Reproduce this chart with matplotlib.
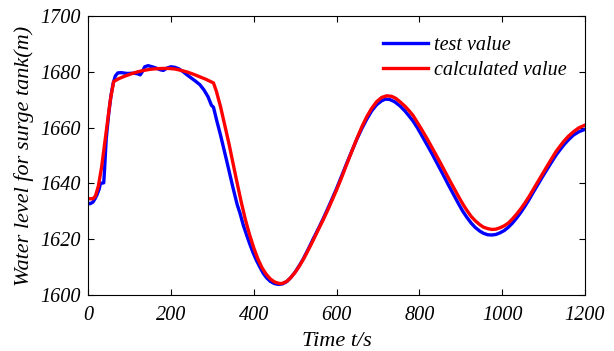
import numpy as np
import matplotlib
matplotlib.use('Agg')
import matplotlib.pyplot as plt

plt.rcParams['font.family'] = ['Liberation Serif', 'DejaVu Serif']
plt.rcParams['font.style'] = 'italic'

# 实测值 (test value)
t_test = [0, 5, 12, 17, 22, 27, 30, 38, 40, 44, 50, 56, 61, 66, 72, 80, 95, 110,
          120, 126, 131, 137, 145, 155, 165, 175, 182, 190, 200, 210, 220, 230,
          240, 250, 260, 270, 280, 290, 298, 303, 310, 320, 335, 350, 360, 367,
          375, 383, 390, 399, 407, 415, 423, 431, 440, 450, 460, 470, 480, 490,
          500, 510, 520, 532, 544, 556, 568, 580, 590, 600, 612, 625, 637, 649,
          661, 673, 685, 697, 709, 718, 728, 740, 753, 765, 775, 785, 795, 805,
          818, 830, 840, 850, 860, 870, 882, 895, 905, 914, 925, 935, 946, 955,
          965, 975, 985, 995, 1005, 1015, 1025, 1035, 1045, 1055, 1065, 1075,
          1087, 1097, 1107, 1120, 1130, 1140, 1150, 1160, 1172, 1185, 1200]
h_test = [1633, 1632.7, 1633.3, 1634.5, 1636, 1638, 1640, 1640.2, 1645, 1656,
          1665, 1672, 1676, 1678.5, 1679.6, 1679.7, 1679.4, 1679.5, 1679.3,
          1678.9, 1680, 1681.8, 1682.2, 1681.8, 1681.3, 1680.7, 1680.5, 1681.3,
          1681.8, 1681.6, 1681, 1680, 1678.8, 1677.7, 1676.6, 1675.4, 1673.5,
          1671, 1668, 1667.3, 1663, 1657.3, 1648, 1638.5, 1632.5, 1629.3, 1625,
          1621.5, 1618.5, 1615, 1612.3, 1610, 1607.8, 1606.2, 1604.9, 1604.1,
          1603.8, 1604, 1604.8, 1606.3, 1608.2, 1610.5, 1613, 1616.5, 1620.2,
          1623.7, 1627.4, 1631.3, 1634.7, 1638.1, 1642.5, 1647.3, 1651.6,
          1655.8, 1659.6, 1663, 1666, 1668.2, 1669.6, 1670.2, 1670.1, 1669.3,
          1667.8, 1666, 1664.2, 1662.3, 1660, 1657.4, 1654, 1650.8, 1648,
          1645.2, 1642.4, 1639.5, 1636.2, 1632.6, 1630, 1628, 1625.8, 1624.2,
          1622.9, 1622.1, 1621.6, 1621.5, 1621.7, 1622.3, 1623.1, 1624.3,
          1625.8, 1627.6, 1629.6, 1631.8, 1634.2, 1636.8, 1639.8, 1642.3,
          1644.7, 1647.8, 1650.1, 1652.1, 1654, 1655.6, 1657.3, 1658.5, 1659.4]

# 计算值 (calculated value)
t_calc = [0, 12, 18, 25, 33, 40, 47, 54, 62, 75, 90, 105, 120, 135, 150, 165,
          180, 195, 210, 225, 240, 255, 270, 285, 303, 310, 320, 330, 340, 350,
          360, 370, 380, 390, 400, 410, 420, 430, 440, 450, 460, 465, 470, 480,
          490, 500, 510, 520, 530, 544, 556, 568, 580, 590, 600, 612, 625, 637,
          649, 661, 673, 685, 697, 709, 721, 733, 743, 753, 765, 775, 785, 795,
          805, 818, 830, 840, 850, 860, 870, 882, 895, 905, 914, 925, 935, 946,
          955, 965, 975, 985, 995, 1005, 1015, 1025, 1035, 1045, 1055, 1065,
          1075, 1087, 1097, 1107, 1120, 1130, 1140, 1150, 1160, 1172, 1185, 1200]
h_calc = [1634.5, 1634.5, 1635.5, 1639, 1646, 1654, 1662, 1670, 1676.5,
          1677.6, 1678.5, 1679.3, 1680, 1680.5, 1680.9, 1681.1, 1681.2, 1681.2,
          1681, 1680.5, 1679.9, 1679.1, 1678.2, 1677.3, 1676, 1673, 1667.5,
          1661, 1654.5, 1647.3, 1640.2, 1633.3, 1627, 1621.7, 1617, 1613,
          1609.8, 1607.5, 1605.8, 1604.7, 1604.2, 1604.1, 1604.2, 1604.9,
          1606.3, 1608.1, 1610.3, 1612.8, 1615.6, 1619.7, 1623.4, 1627, 1630.8,
          1634.2, 1637.6, 1642, 1647, 1651.5, 1656, 1660.2, 1663.9, 1666.9,
          1669.3, 1670.8, 1671.4, 1671.2, 1670.5, 1669.3, 1667.7, 1666.1,
          1664.3, 1661.9, 1659.5, 1656.2, 1653, 1650.3, 1647.6, 1644.8, 1642,
          1638.7, 1635.2, 1632.6, 1630.5, 1628.2, 1626.6, 1625.2, 1624.3,
          1623.8, 1623.5, 1623.6, 1624.1, 1624.8, 1625.8, 1627.3, 1629, 1630.9,
          1633, 1635.3, 1637.8, 1640.8, 1643.3, 1645.8, 1649, 1651.4, 1653.4,
          1655.3, 1656.9, 1658.5, 1659.9, 1660.9]

fig = plt.figure(figsize=(6.14, 3.51), dpi=100)
ax = fig.add_axes([88 / 614, 1 - 295 / 351, (585 - 88) / 614, (295 - 16) / 351])

ax.plot(t_test, h_test, color='#0000ff', linewidth=2.4, label='test value')
ax.plot(t_calc, h_calc, color='#ff0000', linewidth=2.4, label='calculated value')

ax.set_xlim(0, 1200)
ax.set_ylim(1600, 1700)
ax.set_xticks(range(0, 1201, 200))
ax.set_yticks(range(1600, 1701, 20))
ax.tick_params(direction='in', top=True, right=True, labelsize=14.5,
               length=4, width=0.8)
ax.tick_params(axis='x', pad=8)
ax.tick_params(axis='y', pad=5)
for s in ax.spines.values():
    s.set_linewidth(0.8)

ax.set_xlabel('Time t/s', fontsize=16, labelpad=5)
ax.set_ylabel('Water level for surge tank(m)', fontsize=16, labelpad=5)

ax.legend(loc='upper right', frameon=False, fontsize=14.5, handlelength=2.2,
          handletextpad=0.3, labelspacing=0.3, borderaxespad=0.3,
          bbox_to_anchor=(0.991, 0.978))

plt.savefig('out.png', dpi=100)
plt.close(fig)
